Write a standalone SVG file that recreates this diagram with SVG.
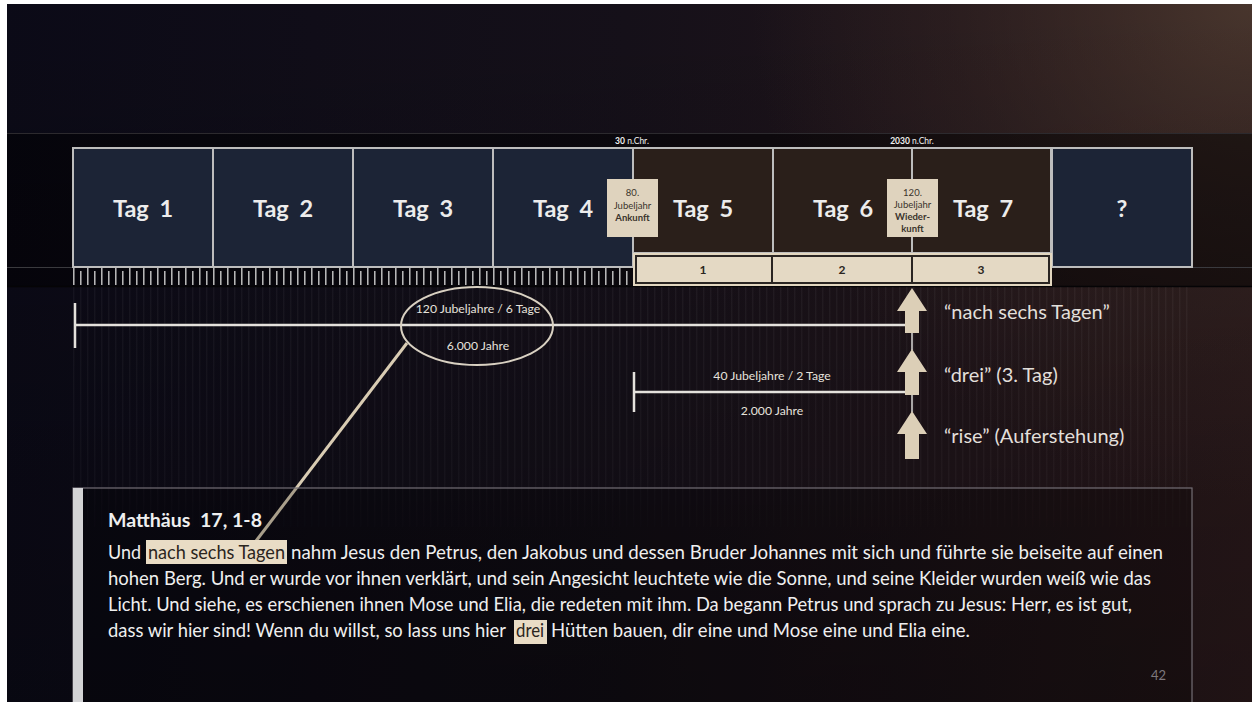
<svg xmlns="http://www.w3.org/2000/svg" width="1252" height="702" viewBox="0 0 1252 702">
<defs>
<linearGradient id="bgH" x1="0" y1="0" x2="1" y2="0">
<stop offset="0" stop-color="#0b0a17"/>
<stop offset="0.5" stop-color="#151019"/>
<stop offset="1" stop-color="#2a191b"/>
</linearGradient>
<radialGradient id="glow" cx="1252" cy="0" r="500" gradientUnits="userSpaceOnUse">
<stop offset="0" stop-color="#4a372e" stop-opacity="0.95"/>
<stop offset="0.6" stop-color="#3a2a26" stop-opacity="0.4"/>
<stop offset="1" stop-color="#3a2a26" stop-opacity="0"/>
</radialGradient>
<linearGradient id="bgV" x1="0" y1="0" x2="0" y2="1">
<stop offset="0" stop-color="#000" stop-opacity="0"/>
<stop offset="1" stop-color="#000" stop-opacity="0.25"/>
</linearGradient>
<pattern id="ticks" patternUnits="userSpaceOnUse" x="73" y="268" width="14" height="18">
<line x1="0.8" y1="0" x2="0.8" y2="17" stroke="#c9c9c9" stroke-width="1.4"/>
<line x1="7.8" y1="3" x2="7.8" y2="17" stroke="#c9c9c9" stroke-width="1.4"/>
</pattern>
<pattern id="stripes" patternUnits="userSpaceOnUse" x="73" y="0" width="7" height="10">
<line x1="0.8" y1="0" x2="0.8" y2="10" stroke="#ffffff" stroke-width="1"/>
</pattern>
<linearGradient id="fadeG" x1="0" y1="0" x2="0" y2="1">
<stop offset="0" stop-color="#fff" stop-opacity="1"/>
<stop offset="0.75" stop-color="#fff" stop-opacity="0.7"/>
<stop offset="1" stop-color="#fff" stop-opacity="0"/>
</linearGradient>
<mask id="fadeM" maskUnits="userSpaceOnUse" x="0" y="286" width="1252" height="260">
<rect x="0" y="286" width="1252" height="260" fill="url(#fadeG)"/>
</mask>
</defs>
<style>
.box{stroke:#bdbdbd;stroke-width:2}
.navy{fill:#1c2436}
.brown{fill:#2a1f1a}
.tag{font-family:Lato,"Liberation Sans",sans-serif;font-weight:700;font-size:23.5px;fill:#ececec;text-anchor:middle;word-spacing:5px}
.yr{font-family:Lato,"Liberation Sans",sans-serif;font-size:8.5px;fill:#f0f0f0;text-anchor:middle}
.lbl{fill:#dfd3be}
.lt{font-family:Lato,"Liberation Sans",sans-serif;font-size:9.5px;fill:#3a332c;text-anchor:middle}
.num{font-family:Lato,"Liberation Sans",sans-serif;font-weight:700;font-size:12px;fill:#2a2520;text-anchor:middle}
.span{font-family:Lato,"Liberation Sans",sans-serif;font-size:12.2px;fill:#e6e2dc;text-anchor:middle}
.quote{font-family:Lato,"Liberation Sans",sans-serif;font-size:20px;fill:#e2dfda}
.body{font-family:Lato,"Liberation Sans",sans-serif;font-size:19px;fill:#efefef}
.hl{fill:#e9dcc5}
.dark{fill:#2b2520}
.wline{stroke:#e4e1dc;stroke-width:2.5;fill:none}
.arrow{fill:#dccfb7}
</style>

<!-- background -->
<rect x="0" y="0" width="1252" height="702" fill="url(#bgH)"/>
<rect x="0" y="0" width="1252" height="702" fill="url(#glow)"/>
<rect x="0" y="0" width="1252" height="702" fill="url(#bgV)"/>
<rect x="0" y="0" width="1252" height="4" fill="#ffffff"/>
<rect x="0" y="0" width="7" height="702" fill="#ffffff"/>

<!-- band -->
<rect x="7" y="133" width="1245" height="153" fill="#000" fill-opacity="0.45"/>
<line x1="7" y1="133.5" x2="1252" y2="133.5" stroke="#2c2a2e" stroke-width="1"/>
<line x1="7" y1="267.5" x2="1252" y2="267.5" stroke="#3a3a3e" stroke-width="1"/>
<line x1="7" y1="286.5" x2="1252" y2="286.5" stroke="#050406" stroke-width="1.5"/>
<rect x="73" y="287" width="1119" height="240" fill="url(#stripes)" opacity="0.06" mask="url(#fadeM)"/>
<rect x="73" y="268" width="560" height="17" fill="url(#ticks)"/>

<g id="year30"><text class="yr" x="632" y="144"><tspan font-weight="700">30</tspan> n.Chr.</text></g>
<g id="year2030"><text class="yr" x="912" y="144"><tspan font-weight="700">2030</tspan> n.Chr.</text></g>

<g id="tag1"><rect class="box navy" x="73" y="148" width="140" height="119"/><text class="tag" x="143" y="217">Tag 1</text></g>
<g id="tag2"><rect class="box navy" x="213" y="148" width="140" height="119"/><text class="tag" x="283" y="217">Tag 2</text></g>
<g id="tag3"><rect class="box navy" x="353" y="148" width="140" height="119"/><text class="tag" x="423" y="217">Tag 3</text></g>
<g id="tag4"><rect class="box navy" x="493" y="148" width="140" height="119"/><text class="tag" x="563" y="217">Tag 4</text></g>
<g id="tag5"><rect class="box brown" x="633" y="148" width="140" height="105"/><text class="tag" x="703" y="217">Tag 5</text></g>
<g id="tag6"><rect class="box brown" x="773" y="148" width="139" height="105"/><text class="tag" x="843" y="217">Tag 6</text></g>
<g id="tag7"><rect class="box brown" x="912" y="148" width="139" height="105"/><text class="tag" x="983" y="217">Tag 7</text></g>
<g id="tag8"><rect class="box navy" x="1052" y="148" width="140" height="119"/><text class="tag" x="1122" y="217">?</text></g>

<g id="days">
<rect x="633" y="253" width="419" height="33" fill="#e2d6bf"/>
<rect x="636" y="256" width="413" height="27" fill="#e4d9c4" stroke="#2a2522" stroke-width="2"/>
<line x1="772" y1="256" x2="772" y2="283" stroke="#2a2522" stroke-width="2"/>
<line x1="912" y1="256" x2="912" y2="283" stroke="#2a2522" stroke-width="2"/>
<text class="num" x="703" y="274">1</text>
<text class="num" x="842" y="274">2</text>
<text class="num" x="981" y="274">3</text>
</g>

<g id="jubel80">
<rect class="lbl" x="607" y="179" width="51" height="58"/>
<text class="lt" x="632.5" y="196">80.</text>
<text class="lt" x="632.5" y="208.5">Jubeljahr</text>
<text class="lt" x="632.5" y="221" font-weight="700" fill="#2a241f">Ankunft</text>
</g>
<g id="jubel120">
<rect class="lbl" x="887" y="179" width="51" height="58"/>
<text class="lt" x="912.5" y="196">120.</text>
<text class="lt" x="912.5" y="208">Jubeljahr</text>
<text class="lt" x="912.5" y="220" font-weight="700" fill="#2a241f">Wieder-</text>
<text class="lt" x="912.5" y="232" font-weight="700" fill="#2a241f">kunft</text>
</g>

<g id="connectors">
<line class="wline" x1="75" y1="325" x2="906" y2="325"/>
<line class="wline" x1="75" y1="303" x2="75" y2="348"/>
<line class="wline" x1="634" y1="392" x2="906" y2="392"/>
<line class="wline" x1="634" y1="372" x2="634" y2="412"/>
<line x1="912" y1="333" x2="912" y2="350" stroke="#a9a6a6" stroke-width="2"/>
<line x1="912" y1="395" x2="912" y2="412" stroke="#a9a6a6" stroke-width="2"/>
<line x1="407" y1="343" x2="256" y2="541" stroke="#d9ccb3" stroke-width="3"/>
</g>

<g id="span6000">
<ellipse cx="477" cy="326" rx="76" ry="39" fill="none" stroke="#d9d1c2" stroke-width="2"/>
<text class="span" x="478" y="313">120 Jubeljahre / 6 Tage</text>
<text class="span" x="478" y="350">6.000 Jahre</text>
</g>
<g id="span2000">
<text class="span" x="772" y="380">40 Jubeljahre / 2 Tage</text>
<text class="span" x="772" y="415">2.000 Jahre</text>
</g>

<g id="arrow1"><polygon class="arrow" points="912,288 927,311 919,311 919,333 905,333 905,311 897,311"/>
<text class="quote" x="944" y="319">“nach sechs Tagen”</text></g>
<g id="arrow2"><polygon class="arrow" points="912,349 927,372 919,372 919,395 905,395 905,372 897,372"/>
<text class="quote" x="944" y="382">“drei” (3. Tag)</text></g>
<g id="arrow3"><polygon class="arrow" points="912,411 927,434 919,434 919,459 905,459 905,434 897,434"/>
<text class="quote" x="944" y="443">“rise” (Auferstehung)</text></g>

<g id="textbox">
<rect x="73" y="488" width="1119" height="220" fill="#000" fill-opacity="0.22" stroke="#736e76" stroke-width="1.2"/>
<rect x="73" y="488" width="10" height="214" fill="#d3d3d5"/>
<text class="body" x="108" y="527" font-weight="700" font-size="17.5" textLength="154" lengthAdjust="spacingAndGlyphs" style="white-space:pre">Matthäus  17, 1-8</text>
<rect class="hl" x="146" y="540" width="141" height="24"/>
<rect class="hl" x="514" y="620" width="33" height="24"/>
<text class="body" x="108" y="559" textLength="33" lengthAdjust="spacingAndGlyphs">Und</text>
<text class="body dark" x="148" y="559" textLength="137" lengthAdjust="spacingAndGlyphs">nach sechs Tagen</text>
<text class="body" x="291" y="559" textLength="872" lengthAdjust="spacingAndGlyphs">nahm Jesus den Petrus, den Jakobus und dessen Bruder Johannes mit sich und führte sie beiseite auf einen</text>
<text class="body" x="108" y="585" textLength="1043" lengthAdjust="spacingAndGlyphs">hohen Berg. Und er wurde vor ihnen verklärt, und sein Angesicht leuchtete wie die Sonne, und seine Kleider wurden weiß wie das</text>
<text class="body" x="108" y="611" textLength="1024" lengthAdjust="spacingAndGlyphs">Licht. Und siehe, es erschienen ihnen Mose und Elia, die redeten mit ihm. Da begann Petrus und sprach zu Jesus: Herr, es ist gut,</text>
<text class="body" x="108" y="637" textLength="398" lengthAdjust="spacingAndGlyphs">dass wir hier sind! Wenn du willst, so lass uns hier</text>
<text class="body dark" x="516" y="637" textLength="28" lengthAdjust="spacingAndGlyphs">drei</text>
<text class="body" x="551" y="637" textLength="419" lengthAdjust="spacingAndGlyphs">Hütten bauen, dir eine und Mose eine und Elia eine.</text>
<text x="1166" y="680" font-family="Lato,'Liberation Sans',sans-serif" font-size="13" fill="#7d787e" text-anchor="end">42</text>
</g>
</svg>
